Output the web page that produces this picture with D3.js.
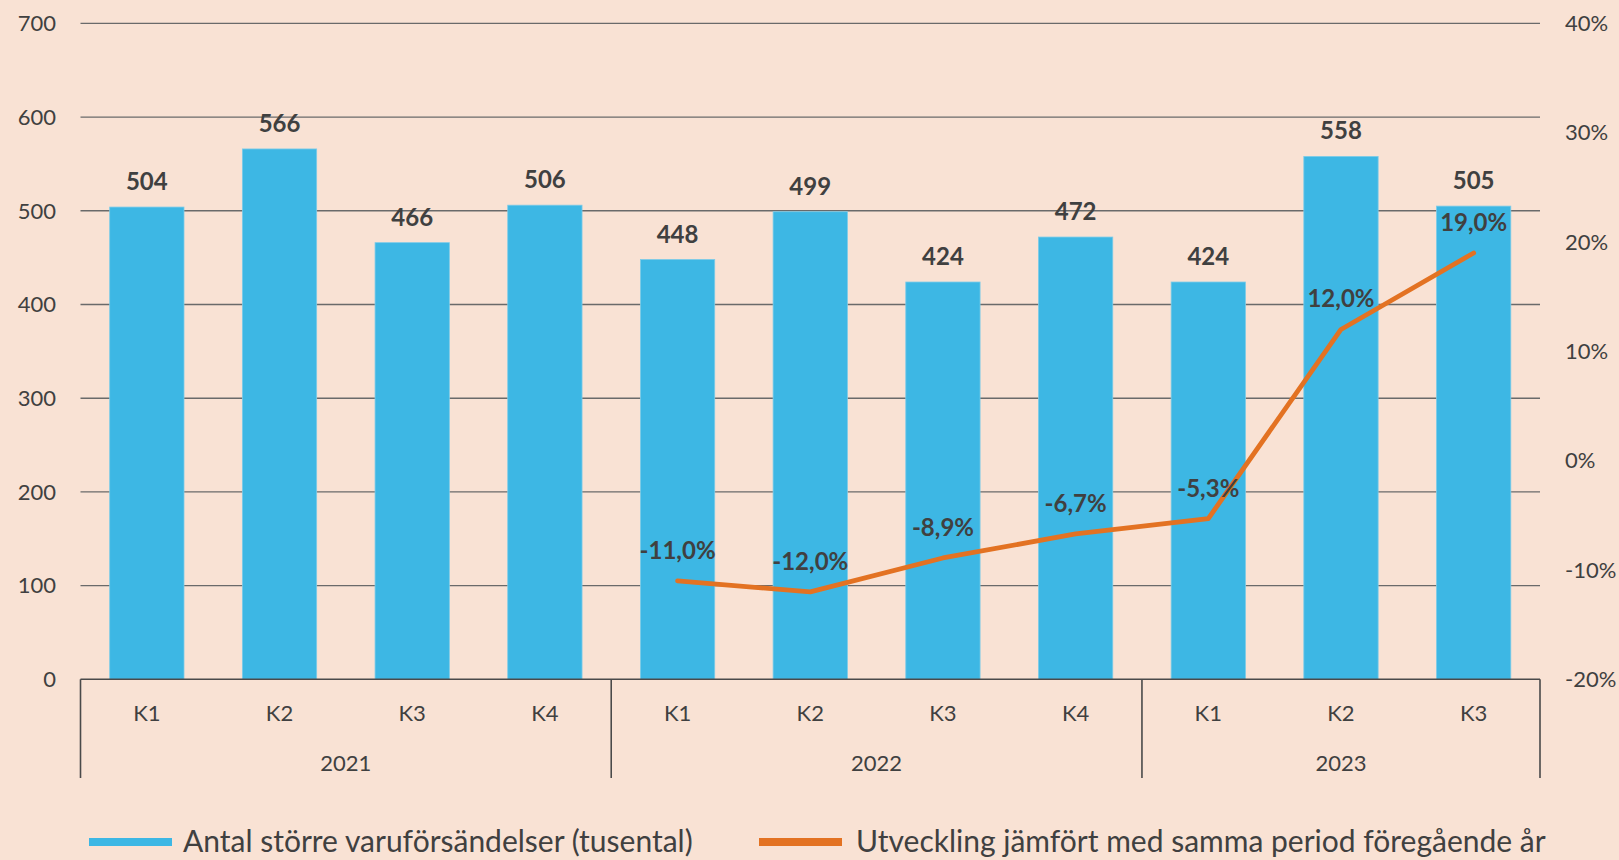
<!DOCTYPE html>
<html><head><meta charset="utf-8">
<script src="https://cdn.jsdelivr.net/npm/d3@7"></script>
<style>
html,body{margin:0;padding:0;background:#F9E2D4;}
svg{display:block;}
text{font-family:Lato,"Open Sans",sans-serif;fill:#404040;}
</style></head>
<body>
<script>
const quarters = ["K1","K2","K3","K4","K1","K2","K3","K4","K1","K2","K3"];
const years = ["2021","2022","2023"];
const yearCounts = [4,4,3];
const shipments = [504,566,466,506,448,499,424,472,424,558,505];
const change = [null,null,null,null,-11.0,-12.0,-8.9,-6.7,-5.3,12.0,19.0];
const leftTicks = [0,100,200,300,400,500,600,700];
const rightTicks = [-20,-10,0,10,20,30,40];
const seriesNames = ["Antal större varuförsändelser (tusental)","Utveckling jämfört med samma period föregående år"];
const colors = {bar:"#3DB7E4", line:"#E37222", grid:"#6a6a6a", axis:"#4a4a4a"};

const W = 1619, H = 860;
const m = {left:80.5, right:1540, top:23.4, bottom:679.3};
const loc = d3.formatLocale({decimal:",", thousands:" ", grouping:[3], currency:["",""], minus:"-"});
const fPct = loc.format(".1f");

const svg = d3.select("body").append("svg").attr("width",W).attr("height",H);
svg.append("rect").attr("width",W).attr("height",H).attr("fill","#F9E2D4");

const x = d3.scaleBand().domain(d3.range(quarters.length)).range([m.left,m.right]).paddingInner(0.44).paddingOuter(0.22);
const y = d3.scaleLinear().domain([0,700]).range([m.bottom,m.top]);
const y2 = d3.scaleLinear().domain([-20,40]).range([m.bottom,m.top]);

// gridlines
svg.append("g").selectAll("line").data(leftTicks.filter(d=>d>0)).join("line")
  .attr("x1",m.left).attr("x2",m.right).attr("y1",d=>y(d)).attr("y2",d=>y(d))
  .attr("stroke",colors.grid).attr("stroke-width",1.4);

// left axis labels
svg.append("g").selectAll("text").data(leftTicks).join("text")
  .attr("x",56).attr("y",d=>y(d)).attr("dy","0.35em").attr("text-anchor","end")
  .attr("font-size",22).text(d=>d);

// right axis labels
svg.append("g").selectAll("text").data(rightTicks).join("text")
  .attr("x",1565).attr("y",d=>y2(d)).attr("dy","0.35em").attr("text-anchor","start")
  .attr("font-size",22).text(d=>loc.format("d")(d)+"%");

// bars
svg.append("g").selectAll("rect").data(shipments).join("rect")
  .attr("x",(d,i)=>x(i)).attr("width",x.bandwidth())
  .attr("y",d=>y(d)).attr("height",d=>y(0)-y(d))
  .attr("fill",colors.bar).attr("stroke","#7ccbe8").attr("stroke-width",0.8);

// bar labels
svg.append("g").selectAll("text").data(shipments).join("text")
  .attr("x",(d,i)=>x(i)+x.bandwidth()/2).attr("y",d=>y(d)-17)
  .attr("text-anchor","middle").attr("font-size",24).attr("font-weight","bold")
  .text(d=>d);

// x axis line
svg.append("line").attr("x1",m.left).attr("x2",m.right).attr("y1",y(0)).attr("y2",y(0))
  .attr("stroke",colors.axis).attr("stroke-width",1.6);

// group separators
const cum = [0].concat(Array.from(d3.cumsum(yearCounts)));
const sepX = cum.map((c,i)=> i===0 ? m.left : (i===cum.length-1 ? m.right : x(c) - x.step()*x.paddingInner()/2));
svg.append("g").selectAll("line").data(sepX).join("line")
  .attr("x1",d=>d).attr("x2",d=>d).attr("y1",y(0)).attr("y2",778)
  .attr("stroke",colors.axis).attr("stroke-width",1.6);

// quarter labels
svg.append("g").selectAll("text").data(quarters).join("text")
  .attr("x",(d,i)=>x(i)+x.bandwidth()/2).attr("y",721)
  .attr("text-anchor","middle").attr("font-size",22).text(d=>d);

// year labels
svg.append("g").selectAll("text").data(years).join("text")
  .attr("x",(d,i)=>(sepX[i]+sepX[i+1])/2).attr("y",771)
  .attr("text-anchor","middle").attr("font-size",22).text(d=>d);

// line
const pts = change.map((v,i)=>({i,v})).filter(d=>d.v!==null);
const line = d3.line().x(d=>x(d.i)+x.bandwidth()/2).y(d=>y2(d.v));
svg.append("path").datum(pts).attr("d",line).attr("fill","none")
  .attr("stroke",colors.line).attr("stroke-width",4.8).attr("stroke-linecap","round").attr("stroke-linejoin","round");

svg.append("g").selectAll("text").data(pts).join("text")
  .attr("x",d=>x(d.i)+x.bandwidth()/2).attr("y",d=>y2(d.v)-22)
  .attr("text-anchor","middle").attr("font-size",24).attr("font-weight","bold")
  .text(d=>fPct(d.v)+"%");

// legend
const lg = svg.append("g");
lg.append("rect").attr("x",89).attr("y",838).attr("width",83).attr("height",8).attr("fill",colors.bar);
lg.append("text").attr("x",183).attr("y",852).attr("font-size",30).text(seriesNames[0]);
lg.append("rect").attr("x",759).attr("y",838).attr("width",83).attr("height",8).attr("fill",colors.line);
lg.append("text").attr("x",856).attr("y",852).attr("font-size",30).text(seriesNames[1]);
</script>
</body></html>
